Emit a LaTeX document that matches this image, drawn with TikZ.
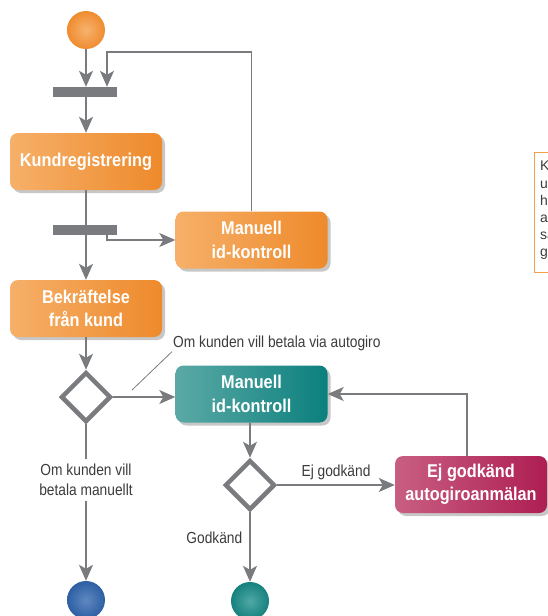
\documentclass[tikz,border=0pt]{standalone}
\usepackage{fontspec}
\setmainfont{Liberation Sans}
\newfontfamily\boxfont{Liberation Sans}[FakeStretch=0.88]
\newfontfamily\lblfont{Liberation Sans}[FakeStretch=0.86]
\usetikzlibrary{arrows.meta,shapes.geometric,shadows}
\definecolor{linegray}{HTML}{7A7B7E}
\definecolor{orL}{HTML}{F6B069}
\definecolor{orD}{HTML}{EE8A2B}
\definecolor{teL}{HTML}{5BA9A6}
\definecolor{teD}{HTML}{0B807D}
\definecolor{crL}{HTML}{C85E82}
\definecolor{crD}{HTML}{AE1E52}
\definecolor{txtgray}{HTML}{3C3C3C}
\definecolor{noteor}{HTML}{F2A04E}
\definecolor{bluL}{HTML}{5F88C0}
\definecolor{bluD}{HTML}{2D5FA3}
\definecolor{tbL}{HTML}{4FA8A5}
\definecolor{tbD}{HTML}{16817E}
\definecolor{obL}{HTML}{F7B26E}
\definecolor{obD}{HTML}{EF8C30}
\tikzset{
  arr/.style={draw=linegray, line width=1.4pt, -{Stealth[length=16pt,width=14pt,inset=4pt]}},
  ln/.style={draw=linegray, line width=1.4pt},
  actbox/.style={rounded corners=8pt, minimum width=152pt, minimum height=57pt, inner sep=0pt,
     align=center, text=white, font=\boxfont\bfseries\fontsize{18.5}{23.5}\selectfont,
     drop shadow={shadow xshift=3pt, shadow yshift=-3pt, fill=black!22, opacity=1}},
  orbox/.style={actbox, left color=orL, right color=orD},
  tebox/.style={actbox, left color=teL, right color=teD},
  crbox/.style={actbox, left color=crL, right color=crD},
  syncbar/.style={fill=linegray, minimum width=64pt, minimum height=10pt, inner sep=0pt},
  decision/.style={diamond, draw=linegray, line width=4.5pt, minimum width=50pt, minimum height=50pt, inner sep=0pt, fill=white},
  ballnode/.style={circle, minimum size=38pt, inner sep=0pt},
  lbl/.style={font=\lblfont\fontsize{16}{20}\selectfont, text=txtgray, inner sep=1pt}
}
\begin{document}
\begin{tikzpicture}[x=1pt,y=-1pt]
\useasboundingbox (0,0) rectangle (548,616);
% nodes
\node[ballnode, inner color=obL, outer color=obD] (start) at (86,30) {};
\node[syncbar] (bar1) at (85,92) {};
\node[orbox] (kund) at (86,161.5) {Kundregistrering};
\node[syncbar] (bar2) at (85,230) {};
\node[orbox] (man1) at (251.5,240) {Manuell\\id-kontroll};
\node[orbox] (bekr) at (86,308.5) {Bekräftelse\\från kund};
\node[decision] (dia1) at (86,397) {};
\node[tebox] (man2) at (251.5,394) {Manuell\\id-kontroll};
\node[decision] (dia2) at (250,485) {};
\node[crbox] (ej) at (471,484.5) {Ej godkänd\\autogiroanmälan};
\node[ballnode, inner color=bluL, outer color=bluD] (end1) at (86,600) {};
\node[ballnode, inner color=tbL, outer color=tbD] (end2) at (250,601) {};
% note box (cut by the edge, as in the original)
\node[draw=noteor, line width=1.2pt, minimum width=40pt, minimum height=120pt, anchor=north west, inner sep=0pt] (note) at (534,152) {};
\node[font=\fontsize{14}{17.2}\selectfont, text=txtgray, align=left, anchor=north west, inner sep=0pt] (notetxt) at (540,161) {K\\u\\h\\ac\\sa\\g};
% coordinates
\coordinate (loopc) at (107,52);
\coordinate (rt) at (467,394);
% connectors
\draw[arr] (start.south) -- (start.south |- bar1.north);
\draw[arr] (man1.north) |- (loopc) -- (loopc |- bar1.north);
\draw[arr] (bar1.south -| start) -- (kund.north -| start);
\draw[ln] (kund.south -| start) -- (bar2.north -| start);
\draw[arr] (bar2.south -| start) -- (bekr.north -| start);
\draw[arr] (bar2.south -| loopc) |- (man1.west);
\draw[arr] (bekr.south) -- (dia1.north);
\draw[arr] (dia1.east) -- (dia1.east -| man2.west);
\draw[arr] (ej.north -| rt) |- (man2.east);
\draw[arr] (man2.south -| dia2) -- (dia2.north);
\draw[arr] (dia2.east) -- node[lbl, above=3pt] (lej) {Ej godkänd} (dia2.east -| ej.west);
\draw[arr] (dia2.south) -- node[lbl, left=6pt, pos=0.36] (lgod) {Godkänd} (end2.north);
\node[lbl, align=center, fill=white, inner ysep=5pt] (lman) at (86,480) {Om kunden vill\\betala manuellt};
\draw[ln] (dia1.south) -- (lman.north);
\draw[arr] (lman.south) -- (end1.north);
\node[lbl, anchor=west] (lauto) at (172,343) {Om kunden vill betala via autogiro};
\coordinate (lead1) at (132,390);
\draw[draw=linegray, line width=0.8pt] (lead1) -- (lauto.south west);
\end{tikzpicture}
\end{document}
